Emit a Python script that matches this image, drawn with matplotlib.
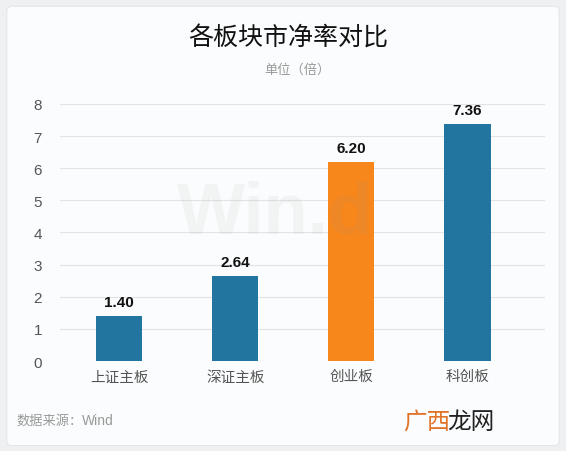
import matplotlib.pyplot as plt
from matplotlib.patches import FancyBboxPatch

plt.rcParams['font.family'] = ['Noto Sans CJK SC', 'DejaVu Sans']

boards = ['上证主板', '深证主板', '创业板', '科创板']
pb = [1.40, 2.64, 6.20, 7.36]
colors = ['#21759f', '#21759f', '#f7861b', '#21759f']
yticks = [0, 1, 2, 3, 4, 5, 6, 7, 8]

fig = plt.figure(figsize=(5.66, 4.52), dpi=100)
fig.patch.set_facecolor('#eef0f2')

# card background
card = FancyBboxPatch((0.012, 0.012), 0.976, 0.972, boxstyle='round,pad=0,rounding_size=0.01',
                      transform=fig.transFigure, facecolor='#fbfcfd', edgecolor='#e4e6e8',
                      linewidth=0.8, zorder=-5)
fig.patches.append(card)

ax = fig.add_axes([0.106, 0.199, 0.857, 0.569])
ax.set_facecolor('none')
ax.set_zorder(2)

x = list(range(len(boards)))
ax.bar(x, pb, width=0.4, color=colors, zorder=3)
for xi, v in zip(x, pb):
    ax.text(xi, v + 0.22, f'{v:.2f}', ha='center', va='bottom', fontsize=11,
            fontweight='bold', color='#111111', family='Liberation Sans')

ax.set_xlim(-0.51, 3.67)
ax.set_ylim(0, 8)
ax.set_yticks(yticks)
ax.set_yticklabels([str(t) for t in yticks], family='Liberation Sans')
ax.set_xticks(x)
ax.set_xticklabels(boards, fontsize=10.5, color='#555555')
ax.tick_params(axis='y', labelsize=11, labelcolor='#555555', length=0, pad=13)
ax.tick_params(axis='x', length=0, pad=6)
ax.grid(axis='y', color='#e3e3e3', linewidth=0.8, zorder=0)
for s in ax.spines.values():
    s.set_visible(False)

# watermark, drawn over the bars
ax.text(0.443, 0.50, 'Win.d', transform=ax.transAxes, fontsize=52, fontweight='bold',
        color='#999999', alpha=0.09, ha='center', va='baseline', zorder=4, family='Liberation Sans')

fig.text(0.51, 0.915, '各板块市净率对比', ha='center', va='center', fontsize=18, color='#111111')
fig.text(0.525, 0.845, '单位（倍）', ha='center', va='center', fontsize=9.5, color='#999999')
fig.text(0.03, 0.068, '数据来源：', ha='left', va='center', fontsize=9.5, color='#999999')
fig.text(0.145, 0.068, 'Wind', ha='left', va='center', fontsize=10, color='#999999',
         family='Liberation Sans')
fig.text(0.712, 0.065, '广西', ha='left', va='center', fontsize=17, color='#e2732a')
fig.text(0.79, 0.065, '龙网', ha='left', va='center', fontsize=17, color='#222222')

fig.savefig('out.png', dpi=100, facecolor=fig.get_facecolor())
